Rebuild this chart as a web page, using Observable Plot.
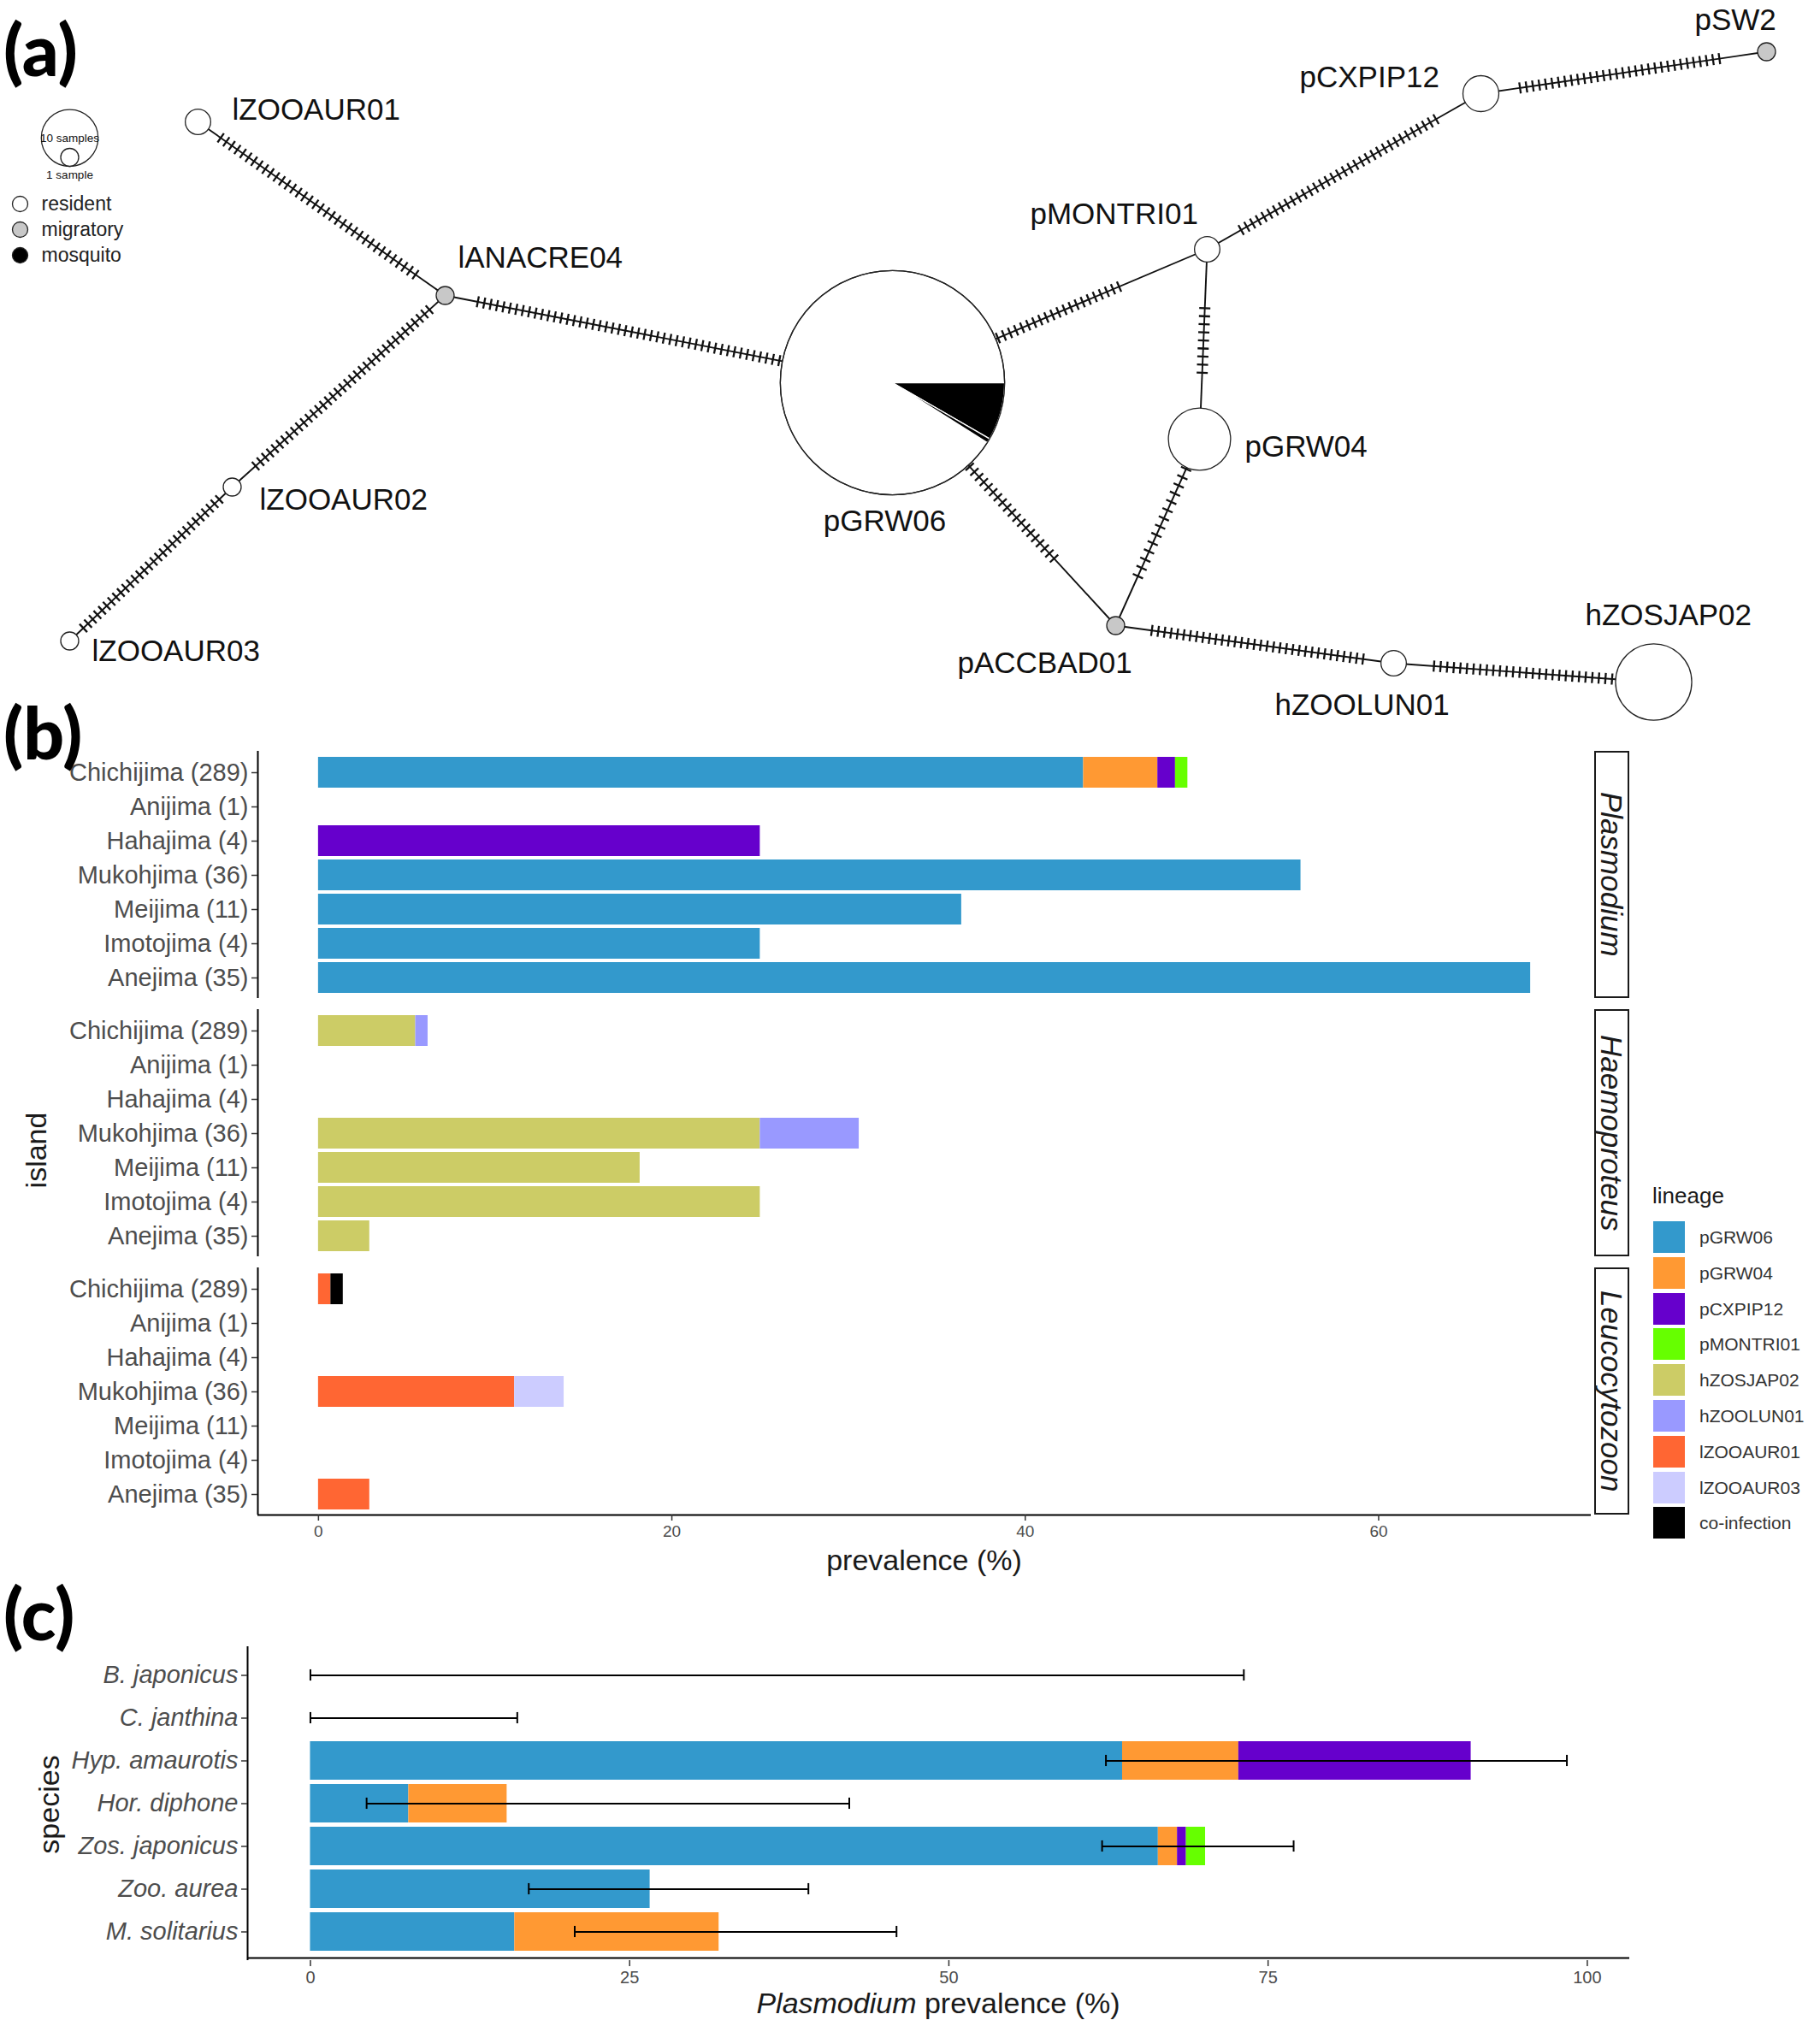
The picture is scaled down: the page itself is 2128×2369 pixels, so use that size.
<!DOCTYPE html>
<html><head><meta charset="utf-8">
<script src="https://cdn.jsdelivr.net/npm/d3@7"></script>
<script src="https://cdn.jsdelivr.net/npm/@observablehq/plot@0.6"></script>
<style>
body{margin:0;background:#fff;}
#root{position:relative;width:2128px;height:2369px;background:#fff;overflow:hidden;font-family:"Liberation Sans",Arial,sans-serif;}
#root > div.plot{position:absolute;left:0;}
.abs{position:absolute;white-space:nowrap;line-height:1;}
.plabel{font-family:Lato,"Open Sans",sans-serif;font-weight:900;font-size:84px;line-height:1.25;color:#000;transform:translateY(-50%);}
.title{font-size:34px;color:#1a1a1a;transform:translate(-50%,-50%);}
.title.rot{transform:translate(-50%,-50%) rotate(-90deg);}
.strip{position:absolute;box-sizing:border-box;border:2px solid #1a1a1a;display:flex;align-items:center;justify-content:center;background:#fff;}
.strip span{writing-mode:vertical-rl;font-style:italic;font-size:35px;color:#1a1a1a;line-height:1;}
.key{position:absolute;width:37px;height:37px;}
.klab{position:absolute;font-size:21px;color:#333;line-height:1;white-space:nowrap;}
</style></head><body><div id="root"></div><script>
// ================= DATA =================
// (a) haplotype network
const nodeNames   = ["lZOOAUR01","lANACRE04","lZOOAUR02","lZOOAUR03","pGRW06","pMONTRI01","pCXPIP12","pSW2","pGRW04","pACCBAD01","hZOOLUN01","hZOSJAP02"];
const nodeSamples = [2, 1, 1, 1, 156, 2, 4, 1, 12, 1, 2, 18];
const nodeHost    = ["resident","migratory","resident","resident","resident","resident","resident","migratory","resident","migratory","resident","resident"];
const pieNode     = "pGRW06";
const pieHost     = ["mosquito","mosquito","resident"];
const pieSamples  = [13, 1, 142];
const edgeFrom      = ["lZOOAUR01","lANACRE04","lZOOAUR02","lANACRE04","pGRW06","pMONTRI01","pCXPIP12","pMONTRI01","pGRW04","pGRW06","pACCBAD01","hZOOLUN01"];
const edgeTo        = ["lANACRE04","lZOOAUR02","lZOOAUR03","pGRW06","pMONTRI01","pCXPIP12","pSW2","pGRW04","pACCBAD01","pACCBAD01","hZOOLUN01","hZOSJAP02"];
const edgeMutations = [36, 37, 30, 48, 21, 35, 32, 9, 14, 19, 34, 28];
const hostTypes   = ["resident","migratory","mosquito"];
const sizeKeys    = [10, 1];
const sizeKeyText = ["10 samples","1 sample"];

// (b) prevalence per island
const islands = ["Chichijima (289)","Anijima (1)","Hahajima (4)","Mukohjima (36)","Meijima (11)","Imotojima (4)","Anejima (35)"];
const genera  = ["Plasmodium","Haemoproteus","Leucocytozoon"];
const lineages = ["pGRW06","pGRW04","pCXPIP12","pMONTRI01","hZOSJAP02","hZOOLUN01","lZOOAUR01","lZOOAUR03","co-infection"];
const lineageColors = ["#3399CC","#FF9933","#6600CC","#66FF00","#CCCC66","#9999FF","#FF6633","#CCCCFF","#000000"];
const bGenus = ["Plasmodium","Plasmodium","Plasmodium","Plasmodium","Plasmodium","Plasmodium","Plasmodium","Plasmodium","Plasmodium",
                "Haemoproteus","Haemoproteus","Haemoproteus","Haemoproteus","Haemoproteus","Haemoproteus","Haemoproteus",
                "Leucocytozoon","Leucocytozoon","Leucocytozoon","Leucocytozoon","Leucocytozoon"];
const bIsland = ["Chichijima (289)","Chichijima (289)","Chichijima (289)","Chichijima (289)","Hahajima (4)","Mukohjima (36)","Meijima (11)","Imotojima (4)","Anejima (35)",
                 "Chichijima (289)","Chichijima (289)","Mukohjima (36)","Mukohjima (36)","Meijima (11)","Imotojima (4)","Anejima (35)",
                 "Chichijima (289)","Chichijima (289)","Mukohjima (36)","Mukohjima (36)","Anejima (35)"];
const bLineage = ["pGRW06","pGRW04","pCXPIP12","pMONTRI01","pCXPIP12","pGRW06","pGRW06","pGRW06","pGRW06",
                  "hZOSJAP02","hZOOLUN01","hZOSJAP02","hZOOLUN01","hZOSJAP02","hZOSJAP02","hZOSJAP02",
                  "lZOOAUR01","co-infection","lZOOAUR01","lZOOAUR03","lZOOAUR01"];
const bPrevalence = [43.3, 4.2, 1.0, 0.7, 25.0, 55.6, 36.4, 25.0, 68.6,
                     5.5, 0.7, 25.0, 5.6, 18.2, 25.0, 2.9,
                     0.7, 0.7, 11.1, 2.8, 2.9];
const bTicks = [0, 20, 40, 60];

// (c) Plasmodium prevalence per host species
const species = ["B. japonicus","C. janthina","Hyp. amaurotis","Hor. diphone","Zos. japonicus","Zoo. aurea","M. solitarius"];
const cSpecies = ["Hyp. amaurotis","Hyp. amaurotis","Hyp. amaurotis","Hor. diphone","Hor. diphone","Zos. japonicus","Zos. japonicus","Zos. japonicus","Zos. japonicus","Zoo. aurea","M. solitarius","M. solitarius"];
const cLineage = ["pGRW06","pGRW04","pCXPIP12","pGRW06","pGRW04","pGRW06","pGRW04","pCXPIP12","pMONTRI01","pGRW06","pGRW06","pGRW04"];
const cPrevalence = [63.6, 9.1, 18.2, 7.7, 7.7, 66.4, 1.5, 0.7, 1.5, 26.6, 16.0, 16.0];
const ciLow  = [0, 0, 62.3, 4.4, 62.0, 17.1, 20.7];
const ciHigh = [73.1, 16.2, 98.4, 42.2, 77.0, 39.0, 45.9];
const cTicks = [0, 25, 50, 75, 100];

// ================= LAYOUT (network drawing positions, px) =================
const nodeX  = [231, 520, 271, 81, 1043, 1411, 1731, 2065, 1402, 1304, 1629, 1933];
const nodeY  = [142, 345, 569, 749, 447, 291, 109, 60, 513, 731, 775, 797];
const labelX = [271, 535, 303, 107, 1034, 1204, 1519, 1981, 1455, 1119, 1490, 1853];
const labelY = [128, 301, 584, 761, 609, 250, 90, 23, 522, 775, 824, 719];
const hatchT0 = [0.092, 0.074, 0.08, 0.073, 0.335, 0.124, 0.137, 0.31, 0.16, 0.346, 0.13, 0.155];
const hatchT1 = [0.88, 0.89, 0.916, 0.747, 0.72, 0.836, 0.835, 0.65, 0.735, 0.724, 0.89, 0.84];

const FONT = '"Liberation Sans", Arial, sans-serif';
const root = document.getElementById("root");
const hostFill = {resident: "#ffffff", migratory: "#c8c8c8", mosquito: "#000000"};
const rUnit = 10.5;

// ---------- (a) ----------
const nodes = nodeNames.map((name, i) => ({name, n: nodeSamples[i], host: nodeHost[i], x: nodeX[i], y: nodeY[i], lx: labelX[i], ly: labelY[i]}));
const byName = Object.fromEntries(nodes.map(d => [d.name, d]));
const edges = edgeFrom.map((f, i) => ({a: byName[f], b: byName[edgeTo[i]], m: edgeMutations[i], t0: hatchT0[i], t1: hatchT1[i]}));
const hatches = [];
const hh = 6.5;
for (const e of edges) {
  const dx = e.b.x - e.a.x, dy = e.b.y - e.a.y, L = Math.hypot(dx, dy);
  const nx = -dy / L, ny = dx / L;
  for (let k = 0; k < e.m; k++) {
    const t = e.t0 + (e.t1 - e.t0) * (e.m === 1 ? 0.5 : k / (e.m - 1));
    const px = e.a.x + t * dx, py = e.a.y + t * dy;
    hatches.push({x1: px - hh * nx, y1: py - hh * ny, x2: px + hh * nx, y2: py + hh * ny});
  }
}
const pn = byName[pieNode];
const pieTotal = d3.sum(pieSamples);
const R = rUnit * Math.sqrt(pn.n);
const pieRows = [];
let acc = 0;
pieSamples.forEach((n, k) => {
  const a0 = acc / pieTotal * 2 * Math.PI, a1 = (acc + n) / pieTotal * 2 * Math.PI;
  acc += n;
  if (pieHost[k] !== "mosquito") return;
  pieRows.push({slice: k, x: pn.x, y: pn.y});
  for (let j = 0; j <= 40; j++) {
    const a = a0 + (a1 - a0) * j / 40;
    pieRows.push({slice: k, x: pn.x + R * Math.cos(a), y: pn.y + R * Math.sin(a)});
  }
});
// legends for (a)
const legCx = 81, legBottom = 194;
const sizeRows = sizeKeys.map((n, i) => ({n, label: sizeKeyText[i], x: legCx, y: legBottom - rUnit * Math.sqrt(n)}));
const typeRows = hostTypes.map((h, i) => ({host: h, x: 23, y: 238 + 30 * i}));

const aPlot = Plot.plot({
  width: 2128, height: 830, margin: 0,
  style: {fontFamily: FONT, background: "transparent", overflow: "visible"},
  x: {domain: [0, 2128], range: [0, 2128], axis: null},
  y: {domain: [0, 830], range: [0, 830], axis: null},
  r: {type: "sqrt", domain: [0, 1], range: [0, rUnit]},
  marks: [
    Plot.link(edges, {x1: d => d.a.x, y1: d => d.a.y, x2: d => d.b.x, y2: d => d.b.y, stroke: "#111", strokeWidth: 1.9}),
    Plot.link(hatches, {x1: "x1", y1: "y1", x2: "x2", y2: "y2", stroke: "#111", strokeWidth: 2.3}),
    Plot.dot(nodes, {x: "x", y: "y", r: "n", fill: d => hostFill[d.host], stroke: "#222", strokeWidth: 1.3}),
    Plot.line(pieRows, {x: "x", y: "y", z: "slice", fill: "#000", stroke: "#fff", strokeWidth: 1.4, curve: "linear-closed"}),
    Plot.dot([pn], {x: "x", y: "y", r: "n", fill: "none", stroke: "#222", strokeWidth: 1.3}),
    Plot.text(nodes.filter(d => d.name !== pieNode), {x: "lx", y: "ly", text: "name", textAnchor: "start", fontSize: 35, fill: "#111"}),
    Plot.text([pn], {x: "lx", y: "ly", text: "name", textAnchor: "middle", fontSize: 35, fill: "#111"}),
    Plot.dot(sizeRows, {x: "x", y: "y", r: "n", fill: "#fff", stroke: "#222", strokeWidth: 1.3}),
    Plot.text(sizeRows.slice(0, 1), {x: "x", y: d => d.y, text: "label", fontSize: 13.5, fill: "#111"}),
    Plot.text(sizeRows.slice(1), {x: "x", y: legBottom + 10, text: "label", fontSize: 13.5, fill: "#111"}),
    Plot.dot(typeRows, {x: "x", y: "y", r: 9, fill: d => hostFill[d.host], stroke: "#222", strokeWidth: 1.3}),
    Plot.text(typeRows, {x: d => d.x + 25, y: "y", text: "host", textAnchor: "start", fontSize: 23, fill: "#222"})
  ]
});
const aDiv = document.createElement("div"); aDiv.className = "plot"; aDiv.style.top = "0px"; aDiv.appendChild(aPlot); root.appendChild(aDiv);

// ---------- (b) ----------
const bRows = bGenus.map((g, i) => ({genus: g, island: bIsland[i], lineage: bLineage[i], prevalence: bPrevalence[i]}));
const xDomB = [-3.43, 72.03];
const bTop = 838, bMT = 40, bMB = 60, bFacetH = 893, bGap = 13;
const bLeft = 301, bRight = 1860;
const bStepF = bFacetH / (3 - bGap / 302);
const bBand = bStepF - bGap;
const bYStep = bBand / 7.2;
const bPlot = Plot.plot({
  width: 2128, height: bMT + bFacetH + bMB,
  marginLeft: bLeft, marginRight: 2128 - bRight, marginTop: bMT, marginBottom: bMB,
  style: {fontFamily: FONT, background: "transparent", color: "#333", overflow: "visible"},
  x: {domain: xDomB},
  y: {domain: islands, paddingInner: 0.1, paddingOuter: 0.15},
  fy: {domain: genera, axis: null, paddingInner: bGap / bStepF, paddingOuter: 0},
  color: {domain: lineages, range: lineageColors},
  marks: [
    Plot.barX(bRows, Plot.stackX({x: "prevalence", y: "island", fy: "genus", fill: "lineage"})),
    Plot.ruleX(genera, {x: () => xDomB[0], fy: d => d, stroke: "#000", strokeWidth: 2}),
    Plot.ruleY([genera[2]], {y: () => islands[islands.length - 1], fy: d => d, dy: 0.6 * bYStep, stroke: "#000", strokeWidth: 2}),
    Plot.axisY({tickSize: 7, tickPadding: 4, fontSize: 29, stroke: "#333", fill: "#4d4d4d", strokeWidth: 1.5, label: null}),
    Plot.axisX({ticks: bTicks, tickSize: 7, tickPadding: 5, fontSize: 19, stroke: "#333", fill: "#4d4d4d", strokeWidth: 1.5, label: null})
  ]
});
const bDiv = document.createElement("div"); bDiv.className = "plot"; bDiv.style.top = bTop + "px"; bDiv.appendChild(bPlot); root.appendChild(bDiv);

// strips
genera.forEach((g, i) => {
  const s = document.createElement("div");
  s.className = "strip";
  s.style.left = (bRight + 4) + "px"; s.style.width = "41px";
  s.style.top = (bTop + bMT + i * bStepF) + "px"; s.style.height = bBand + "px";
  s.innerHTML = `<span>${g}</span>`;
  root.appendChild(s);
});
// lineage legend
{
  const t = document.createElement("div"); t.className = "abs"; t.style.cssText += "left:1932px;top:1385px;font-size:26px;color:#1a1a1a;"; t.textContent = "lineage"; root.appendChild(t);
  lineages.forEach((l, i) => {
    const top = 1428 + i * 41.8;
    const k = document.createElement("div"); k.className = "key"; k.style.left = "1933px"; k.style.top = top + "px"; k.style.background = lineageColors[i]; root.appendChild(k);
    const lab = document.createElement("div"); lab.className = "klab"; lab.style.left = "1987px"; lab.style.top = (top + 8) + "px"; lab.textContent = l; root.appendChild(lab);
  });
}

// ---------- (c) ----------
const cRows = cSpecies.map((s, i) => ({species: s, lineage: cLineage[i], prevalence: cPrevalence[i]}));
const ciRows = species.map((s, i) => ({species: s, lo: ciLow[i], hi: ciHigh[i]}));
const xDomC = [-4.92, 103.32];
const cTop = 1905, cMT = 20, cMB = 40, cFrameH = 367;
const cLeft = 289, cRight = 1905;
const cYStep = cFrameH / 7.2;
const capInset = (cYStep * 0.9 - 14) / 2;
const cPlot = Plot.plot({
  width: 2128, height: cMT + cFrameH + cMB,
  marginLeft: cLeft, marginRight: 2128 - cRight, marginTop: cMT, marginBottom: cMB,
  style: {fontFamily: FONT, background: "transparent", color: "#333", overflow: "visible"},
  x: {domain: xDomC},
  y: {domain: species, paddingInner: 0.1, paddingOuter: 0.15},
  color: {domain: lineages, range: lineageColors},
  marks: [
    Plot.barX(cRows, Plot.stackX({x: "prevalence", y: "species", fill: "lineage"})),
    Plot.ruleY(ciRows, {y: "species", x1: "lo", x2: "hi", stroke: "#000", strokeWidth: 2}),
    Plot.tickX(ciRows, {x: "lo", y: "species", stroke: "#000", strokeWidth: 2, insetTop: capInset, insetBottom: capInset}),
    Plot.tickX(ciRows, {x: "hi", y: "species", stroke: "#000", strokeWidth: 2, insetTop: capInset, insetBottom: capInset}),
    Plot.ruleX([xDomC[0]], {stroke: "#000", strokeWidth: 2}),
    Plot.ruleY([species[species.length - 1]], {dy: 0.6 * cYStep, stroke: "#000", strokeWidth: 2}),
    Plot.axisY({tickSize: 7, tickPadding: 4, fontSize: 29, fontStyle: "italic", stroke: "#333", fill: "#4d4d4d", strokeWidth: 1.5, label: null}),
    Plot.axisX({ticks: cTicks, tickSize: 7, tickPadding: 5, fontSize: 20, stroke: "#333", fill: "#4d4d4d", strokeWidth: 1.5, label: null})
  ]
});
const cDiv = document.createElement("div"); cDiv.className = "plot"; cDiv.style.top = cTop + "px"; cDiv.appendChild(cPlot); root.appendChild(cDiv);

// ---------- titles & panel labels ----------
function addText(html, cls, left, top) {
  const d = document.createElement("div");
  d.className = "abs " + cls; d.style.left = left + "px"; d.style.top = top + "px"; d.innerHTML = html; root.appendChild(d);
}
addText("island", "title rot", 42, 1345);
addText("prevalence (%)", "title", (bLeft + bRight) / 2, 1824);
addText("species", "title rot", 57, 2110);
addText("<i>Plasmodium</i> prevalence (%)", "title", (cLeft + cRight) / 2, 2342);
addText("(a)", "plabel", 4, 56);
addText("(b)", "plabel", 4, 855);
addText("(c)", "plabel", 4, 1885);
</script></body></html>
